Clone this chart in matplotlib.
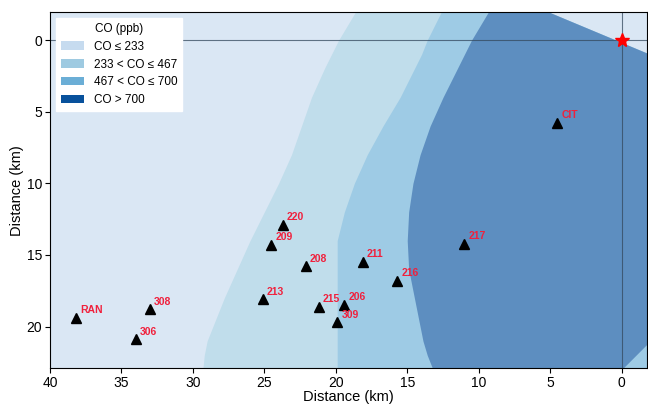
import matplotlib
matplotlib.use("Agg")
import matplotlib.pyplot as plt
from matplotlib.patches import Patch

plt.rcParams["font.family"] = ["Liberation Sans", "DejaVu Sans"]

# estações de medição (distância em km a partir da fonte)
estacoes = ["CIT", "217", "220", "209", "208", "211", "216",
            "213", "215", "206", "309", "RAN", "308", "306"]
est_x = [4.5, 11.0, 23.7, 24.5, 22.1, 18.1, 15.7,
         25.1, 21.2, 19.4, 19.9, 38.2, 33.0, 34.0]
est_y = [5.8, 14.2, 12.9, 14.3, 15.8, 15.5, 16.8,
         18.1, 18.6, 18.5, 19.7, 19.4, 18.8, 20.9]

# fonte
fonte_x = [0.0]
fonte_y = [0.0]

# limites das faixas de CO (x da borda em cada y)
faixa_y   = [-2, -1, 0, 1, 2, 4, 6, 8, 10, 12, 14, 16, 18, 20, 21, 22, 23]
borda_233 = [18.6, 19.2, 19.8, 20.3, 20.8, 21.7, 22.4, 23.1, 24.0, 25.0,
             26.0, 26.9, 27.8, 28.6, 29.0, 29.2, 29.3]
borda_467 = [12.6, 13.1, 13.6, 14.0, 14.5, 15.5, 16.7, 17.8, 18.7, 19.4,
             19.9, 19.9, 19.9, 19.9, 19.9, 19.9, 19.9]
borda_700 = [9.3, 9.9, 10.5, 11.0, 11.5, 12.5, 13.4, 14.1, 14.6, 14.9,
             15.0, 14.9, 14.5, 14.1, 13.9, 13.6, 13.2]
borda_dir_700 = [5.2, 2.8, 0.4, -2.0, -2.5, -2.5, -2.5, -2.5, -2.5, -2.5,
                 -2.5, -2.5, -2.5, -2.5, -2.0, -1.0, 0.0]
borda_dir = [5.2, 2.8, 0.4, -2.0, -2.5, -2.5, -2.5, -2.5, -2.5, -2.5,
             -2.5, -2.5, -2.5, -2.5, -2.5, -2.5, -2.5]

rotulos = ["CO ≤ 233", "233 < CO ≤ 467", "467 < CO ≤ 700", "CO > 700"]
cores_legenda = ["#c6dbef", "#9ecae1", "#6baed6", "#08519c"]
cores_mapa = ["#dae7f4", "#c0ddeb", "#9ecbe5", "#5d8ec0"]

fig = plt.figure(figsize=(6.48, 4.05), dpi=100)
ax = fig.add_axes([0.077, 0.091, 0.922, 0.879])

ax.set_facecolor(cores_mapa[0])
ax.fill_betweenx(faixa_y, borda_233, borda_dir, color=cores_mapa[1], lw=0)
ax.fill_betweenx(faixa_y, borda_467, borda_dir, color=cores_mapa[2], lw=0)
ax.fill_betweenx(faixa_y, borda_700, borda_dir_700, color=cores_mapa[3], lw=0)

# eixos de referência passando pela fonte
ax.axhline(0, color="#34495e", lw=0.8, alpha=0.75)
ax.axvline(0, color="#34495e", lw=0.8, alpha=0.75)

ax.plot(est_x, est_y, "^", color="black", ms=7, ls="none")
for nome, x, y in zip(estacoes, est_x, est_y):
    ax.annotate(nome, (x, y), xytext=(3, 2), textcoords="offset points",
                color="#f0203c", fontsize=7.5, fontweight="bold",
                ha="left", va="bottom")

ax.plot(fonte_x, fonte_y, "*", color="red", ms=10, ls="none")

ax.set_xlim(40, -1.8)
ax.set_ylim(22.9, -1.95)
ax.set_xticks([40, 35, 30, 25, 20, 15, 10, 5, 0])
ax.set_yticks([0, 5, 10, 15, 20])
ax.tick_params(labelsize=10, pad=2)
ax.set_xlabel("Distance (km)", fontsize=10.5, labelpad=0)
ax.set_ylabel("Distance (km)", fontsize=10.5, labelpad=2)

handles = [Patch(facecolor=c, edgecolor="none", label=r)
           for c, r in zip(cores_legenda, rotulos)]
ax.legend(handles=handles, title="CO (ppb)", loc="upper left",
          fontsize=8.5, title_fontsize=8.5, framealpha=1, edgecolor="white",
          fancybox=False, borderaxespad=0.5, labelspacing=0.5)

fig.savefig("out.png", dpi=100)
